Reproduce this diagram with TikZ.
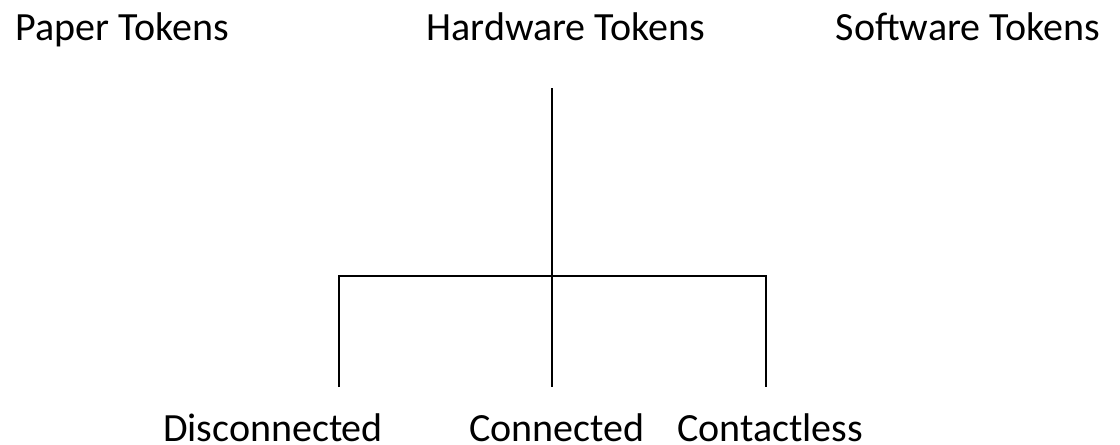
\documentclass[tikz,border=0pt]{standalone}
\usepackage{fontspec}
\setmainfont{Carlito}

\begin{document}
\begin{tikzpicture}[x=0.01cm, y=-0.01cm, line width=0.6pt,
            label/.style={anchor=base, inner sep=0pt, font=\fontsize{11.38pt}{13pt}\selectfont}]
            % 固定画布大小
            \useasboundingbox (0,0) rectangle (1120,444);

            % 第一层: 三类令牌
            \node[label] (paper) at (122,40) {Paper Tokens};
            \node[label] (hardware) at (566,40) {Hardware Tokens};
            \node[label] (software) at (968,40) {Software Tokens};

            % 第二层: 硬件令牌的分类
            \node[label] (disc) at (273,441) {Disconnected};
            \node[label] (conn) at (557,441) {Connected};
            \node[label] (cont) at (770,441) {Contactless};

            % 连线的端点
            \coordinate (hwtop) at (552,88);
            \coordinate (split) at (552,276);
            \coordinate (lsplit) at (339,276);
            \coordinate (rsplit) at (766,276);
            \coordinate (lend) at (339,387);
            \coordinate (mend) at (552,387);
            \coordinate (rend) at (766,387);

            % 树形连线
            \draw (hwtop) -- (split) -- (mend); % 中间竖线
            \draw (lend) -- (lsplit) -- (rsplit) -- (rend); % 横线和两侧竖线
        \end{tikzpicture}
\end{document}
